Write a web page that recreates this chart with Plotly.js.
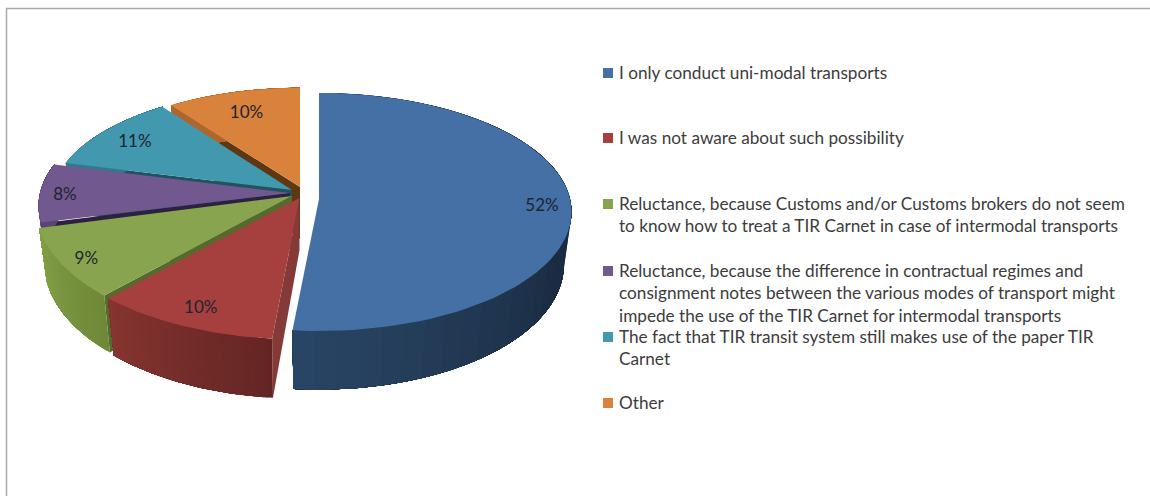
<!DOCTYPE html>
<html>
<head>
<meta charset="utf-8">
<script src="https://cdn.plot.ly/plotly-3.0.1.min.js"></script>
<style>html,body{margin:0;padding:0;background:#fff}#chart{width:1150px;height:496px}</style>
</head>
<body>
<div id="chart"></div>
<script>
// ---- data ----
const categories = [
  "I only conduct uni-modal transports",
  "I was not aware about such possibility",
  "Reluctance, because Customs and/or Customs brokers do not seem<br>to know how to treat a TIR Carnet in case of intermodal transports",
  "Reluctance, because the difference in contractual regimes and<br>consignment notes between the various modes of transport might<br>impede the use of the TIR Carnet for intermodal transports",
  "The fact that TIR transit system still makes use of the paper TIR<br>Carnet",
  "Other"
];
const values = [51.5, 10.4, 9.1, 8, 11, 10];
const colors = ["#4470a5", "#a5403e", "#89a44e", "#71588f", "#4198af", "#d9823b"];

// ---- styles of the 3-D look ----
const cutWall = ["#22394f", "#863a38", "#566a2c", "#2e2040", "#1f5364", "#5e3813"];
const wallA   = ["#1a2c42", "#632524", "#6e8838", "#5a4672", "#33798c", "#ad672e"];
const wallB   = ["#2a4666", "#86352f", "#84a046", "#5a4672", "#33798c", "#ad672e"];
const wallFrom = [0.62, 0, 0, 0, 0, 0];
const apexX   = [319, 299.5, 292, 290, 292, 300];
const apexY   = [199, 198, 196, 193, 190, 187];
const radX    = [251, 259, 254, 250, 240, 239];
const radY    = [117.6, 126, 125, 118, 112, 110];
const labelAt = [0.885, 0.84, 0.89, 0.90, 0.84, 0.80];
const labelDrop = 3;
const persp = 0.109, depth = 52, bottomX = 0.97, bottomY = 1.05;
const legendFirstLine = [73, 138, 204, 271, 337, 403];

// ---- geometry from the values ----
const total = values.reduce((a, b) => a + b, 0);
let run = 0;
const starts = values.map(v => { const s = run; run += v / total * 2 * Math.PI; return s; });
const ends = starts.map((s, i) => s + values[i] / total * 2 * Math.PI);

function rim(i, t) {
  const u = Math.sin(t), v = -Math.cos(t), d = 1 - persp * v;
  return [radX[i] * u / d, radY[i] * v / d];
}
const upper = (i, p) => [apexX[i] + p[0], apexY[i] + p[1]];
const lower = (i, p) => [apexX[i] + p[0] * bottomX, apexY[i] + p[1] * bottomY + depth];
function poly(pts, color) {
  const xs = pts.map(p => p[0]); const ys = pts.map(p => p[1]);
  xs.push(xs[0]); ys.push(ys[0]);
  return {type: "scatter", mode: "lines", x: xs, y: ys, fill: "toself", fillcolor: color,
          line: {color: color, width: 0}, hoverinfo: "skip", showlegend: false};
}
function mix(a, b, f) {
  const c = s => [1, 3, 5].map(k => parseInt(s.substr(k, 2), 16));
  const A = c(a), B = c(b);
  return "rgb(" + A.map((x, k) => Math.round(x + (B[k] - x) * f)).join(",") + ")";
}

const traces = [];
// painted back to front
[5, 4, 3, 2, 1, 0].forEach(i => {
  const a = starts[i], b = ends[i];
  const e = rim(i, a);
  traces.push(poly([upper(i, [0, 0]), upper(i, e), lower(i, e), lower(i, [0, 0])], cutWall[i]));
  const strips = 40, steps = 60;
  // each band runs on to the end of the wall, so the next one paints over it without a seam
  for (let k = 0; k < strips; k++) {
    const pts = [], t0 = a + (b - a) * k / strips;
    for (let j = 0; j <= steps; j++) pts.push(upper(i, rim(i, t0 + (b - t0) * j / steps)));
    for (let j = steps; j >= 0; j--) pts.push(lower(i, rim(i, t0 + (b - t0) * j / steps)));
    const frac = (k + 0.5) / strips;
    traces.push(poly(pts, mix(wallA[i], wallB[i], Math.max(0, (frac - wallFrom[i]) / (1 - wallFrom[i])))));
  }
  const surface = [upper(i, [0, 0])];
  for (let j = 0; j <= 90; j++) surface.push(upper(i, rim(i, a + (b - a) * j / 90)));
  traces.push(poly(surface, colors[i]));
});

// percentage labels
const lx = [], ly = [], lt = [];
values.forEach((v, i) => {
  const m = rim(i, (starts[i] + ends[i]) / 2);
  lx.push(apexX[i] + m[0] * labelAt[i]);
  ly.push(apexY[i] + m[1] * labelAt[i] + labelDrop);
  lt.push(Math.round(v / total * 100) + "%");
});
traces.push({type: "scatter", mode: "text", x: lx, y: ly, text: lt, textposition: "middle center",
  textfont: {family: "Lato, Carlito, sans-serif", size: 17, color: "#1e2430"},
  hoverinfo: "skip", showlegend: false});

// legend keys
traces.push({type: "scatter", mode: "markers", x: categories.map(() => 608), y: legendFirstLine,
  marker: {symbol: "square", size: 10, color: colors, line: {width: 0}},
  hoverinfo: "skip", showlegend: false});

const annotations = categories.map((c, i) => ({
  x: 617.5, y: legendFirstLine[i] - 12, xref: "x", yref: "y", xanchor: "left", yanchor: "top", align: "left",
  text: c, showarrow: false, borderpad: 0,
  font: {family: "Lato, Carlito, sans-serif", size: 17.2, color: "#3c3c3c"}
}));

const layout = {
  width: 1150, height: 496, margin: {l: 0, r: 0, t: 0, b: 0},
  paper_bgcolor: "#ffffff", plot_bgcolor: "#ffffff", showlegend: false,
  xaxis: {range: [0, 1150], visible: false, fixedrange: true},
  yaxis: {range: [496, 0], visible: false, fixedrange: true},
  annotations: annotations,
  shapes: [
    {type: "line", xref: "x", yref: "y", x0: 6.5, x1: 6.5, y0: 8.5, y1: 496, line: {color: "#a8a8a8", width: 1.5}},
    {type: "line", xref: "x", yref: "y", x0: 6, x1: 1150, y0: 8.5, y1: 8.5, line: {color: "#a8a8a8", width: 1.5}}
  ]
};
Plotly.newPlot("chart", traces, layout, {displayModeBar: false, staticPlot: true});
</script>
</body>
</html>
